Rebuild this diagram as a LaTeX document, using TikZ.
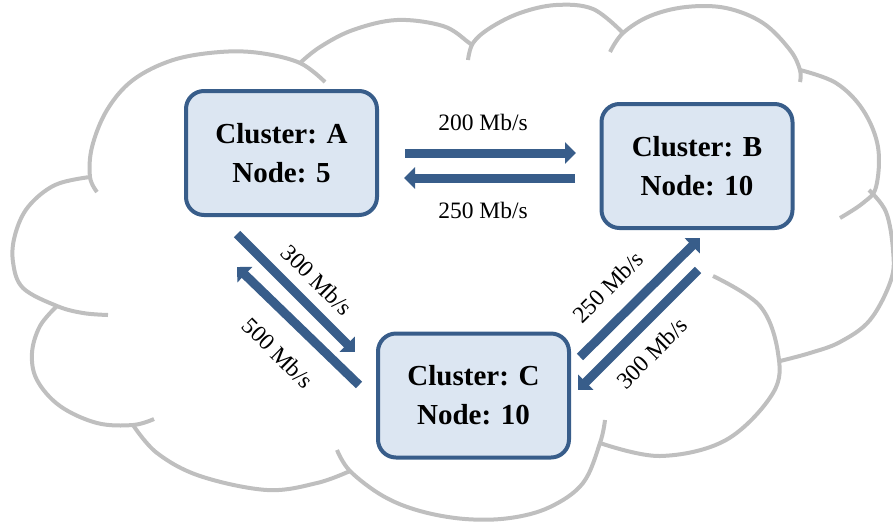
\documentclass[tikz,border=0pt]{standalone}
\usepackage{fontspec}
\setmainfont{Liberation Serif}
\usetikzlibrary{arrows.meta}
\definecolor{cblue}{HTML}{385D8A}
\definecolor{cfill}{HTML}{DCE6F2}
\definecolor{cgray}{HTML}{BFBFBF}
\begin{document}
\begin{tikzpicture}[x=1pt,y=-1pt,
  cluster/.style={draw=cblue, fill=cfill, line width=4pt, rounded corners=18pt,
    minimum width=191pt, minimum height=124pt, align=center,
    font=\fontsize{29}{39}\selectfont\bfseries, inner sep=0pt},
  link/.style={draw=cblue, line width=9pt, -{Triangle[length=11pt,width=21pt]}},
  rate/.style={font=\fontsize{23.5}{28}\selectfont, inner sep=0pt},
  lobe/.style={draw=cgray, line width=4pt}]
\useasboundingbox (0,0) rectangle (893,523);
% cloud lobes
\draw[lobe] plot[smooth, tension=0.6] coordinates {(97,192) (90,177) (92,147) (107,110) (133,80) (173,60) (220,52) (260,53) (300,63) (325,82)};
\draw[lobe] plot[smooth, tension=0.6] coordinates {(300,63) (320,47) (353,30) (397,20) (443,26) (468,42) (472,46)};
\draw[lobe] plot[smooth, tension=0.6] coordinates {(468,60) (473,43) (490,28) (520,13) (556,5) (593,9) (623,33)};
\draw[lobe] plot[smooth, tension=0.6] coordinates {(610,52) (623,33) (650,16) (686,7) (726,8) (763,23) (790,50) (800,70) (800,82)};
\draw[lobe] plot[smooth, tension=0.6] coordinates {(800,70) (836,83) (863,110) (878,147) (876,187) (863,203) (840,218)};
\draw[lobe] plot[smooth, tension=0.6] coordinates {(869,190) (886,212) (893,250) (891,280) (870,320) (840,342) (810,353) (780,361)};
\draw[lobe] plot[smooth, tension=0.6] coordinates {(713,276) (760,306) (778,353) (773,393) (726,440) (660,456) (600,443)};
\draw[lobe] plot[smooth, tension=0.6] coordinates {(337,450) (350,471) (383,496) (420,511) (465,519) (510,518) (550,507) (583,483) (600,443) (605,420)};
\draw[lobe] plot[smooth, tension=0.6] coordinates {(133,425) (157,453) (200,476) (267,490) (317,483) (350,471)};
\draw[lobe] plot[smooth, tension=0.6] coordinates {(57,306) (40,326) (32,353) (37,380) (60,406) (97,423) (133,425) (154,419)};
\draw[lobe] plot[smooth, tension=0.6] coordinates {(90,177) (55,185) (28,207) (15,235) (13,262) (23,288) (57,306) (83,313) (108,315)};
% clusters
\node[cluster] (A) at (281.5,153) {Cluster: A\\Node: 5};
\node[cluster] (B) at (697,166) {Cluster: B\\Node: 10};
\node[cluster] (C) at (473.5,395.5) {Cluster: C\\Node: 10};
% arrow end points
\coordinate (ab1) at (405,153); \coordinate (ab2) at (576,153);
\coordinate (ba1) at (575,178); \coordinate (ba2) at (404,178);
\coordinate (ac1) at (237,234); \coordinate (ac2) at (355,352);
\coordinate (ca1) at (359,385); \coordinate (ca2) at (237,267);
\coordinate (cb1) at (580,357); \coordinate (cb2) at (700,238);
\coordinate (bc1) at (698,270); \coordinate (bc2) at (578,390);
\draw[link] (ab1) -- (ab2);
\draw[link] (ba1) -- (ba2);
\draw[link] (ac1) -- (ac2);
\draw[link] (ca1) -- (ca2);
\draw[link] (cb1) -- (cb2);
\draw[link] (bc1) -- (bc2);
% rates
\node[rate] (rab) at (483,122) {200 Mb/s};
\node[rate] (rba) at (483,210) {250 Mb/s};
\node[rate, rotate=-45] (rac) at (317,280) {300 Mb/s};
\node[rate, rotate=-45] (rca) at (278,353) {500 Mb/s};
\node[rate, rotate=45] (rcb) at (608,287) {250 Mb/s};
\node[rate, rotate=45] (rbc) at (652,353) {300 Mb/s};
\end{tikzpicture}
\end{document}
